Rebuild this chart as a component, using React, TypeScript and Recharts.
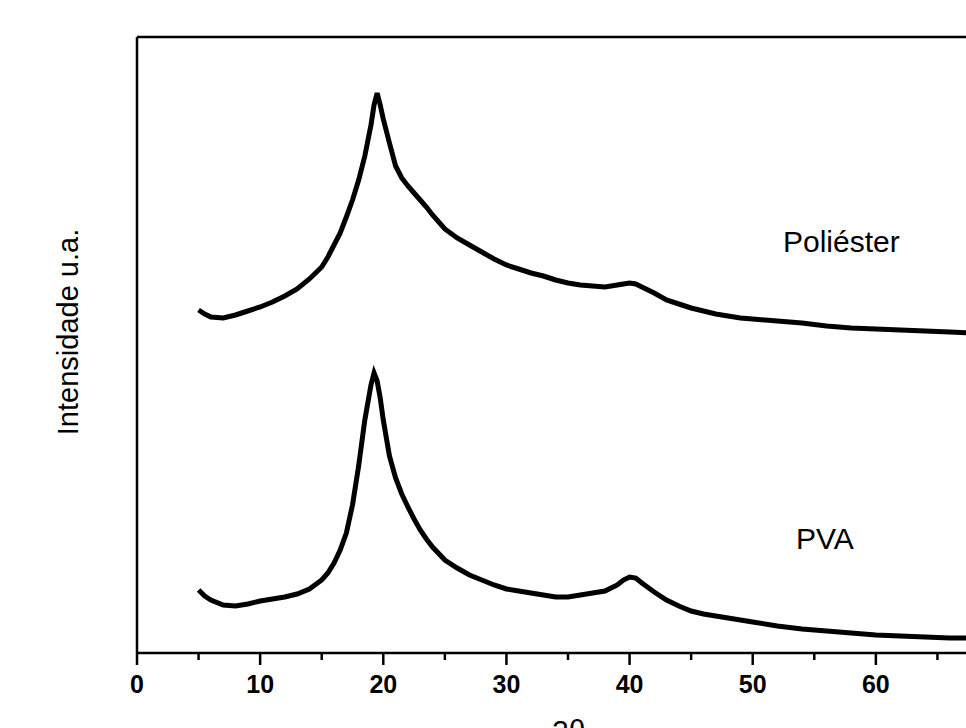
import React from 'react';
import { LineChart, Line, XAxis, YAxis, ReferenceLine } from 'recharts';

// 2θ positions (degrees) where the traces were read
const angles = [
  5, 5.5, 6, 7, 8, 9, 10, 11, 12, 13, 14, 15, 15.5, 16, 16.5, 17, 17.5, 18, 18.5, 19,
  19.25, 19.5, 19.75, 20, 20.5, 21, 21.5, 22, 22.5, 23, 23.5, 24, 25, 26, 27, 28, 29, 30,
  31, 32, 33, 34, 35, 36, 37, 38, 39, 39.5, 40, 40.5, 41, 42, 43, 44, 45, 46, 47, 48, 49,
  50, 52, 54, 56, 58, 60, 62, 64, 66, 68, 70,
];

// intensity (a.u.), upper trace
const poliester = [
  343, 339, 336, 335, 338, 342, 346, 351, 357, 364, 374, 386, 396, 408, 420, 436, 453, 473, 497, 528,
  548, 560, 548, 534, 510, 487, 475, 467, 460, 453, 446, 438, 424, 415, 408, 401, 394, 388,
  384, 380, 377, 373, 370, 368, 367, 366, 368, 369, 370, 369, 366, 360, 353, 349, 345, 342, 339, 337, 335,
  334, 332, 330, 327, 325, 324, 323, 322, 321, 320, 319,
];

// intensity (a.u.), lower trace
const pva = [
  63, 57, 53, 48, 47, 49, 52, 54, 56, 59, 64, 73, 80, 90, 103, 120, 148, 187, 233, 268,
  280, 272, 255, 233, 197, 175, 159, 146, 134, 123, 114, 106, 93, 85, 78, 73, 68, 64,
  62, 60, 58, 56, 56, 58, 60, 62, 68, 73, 76, 75, 70, 61, 53, 47, 42, 39, 37, 35, 33,
  31, 27, 24, 22, 20, 18, 17, 16, 15, 15, 14,
];

const xTicks = [0, 5, 10, 15, 20, 25, 30, 35, 40, 45, 50, 55, 60, 65, 70];

const data = angles.map((t, i) => ({ t, poliester: poliester[i], pva: pva[i] }));

const FONT = '"Liberation Sans", Arial, sans-serif';

const XTick = (props: any) => {
  const { x, y, payload } = props;
  const major = payload.value % 10 === 0;
  return (
    <g>
      <line x1={x} x2={x} y1={y} y2={y + (major ? 12 : 7)} stroke="#000" strokeWidth={2.5} />
      {major && (
        <text x={x} y={y + 40} textAnchor="middle" fontFamily={FONT} fontSize={25} fontWeight="bold" fill="#000">
          {payload.value}
        </text>
      )}
    </g>
  );
};

export default function App() {
  return (
    <div style={{ position: 'absolute', left: 0, top: 0, width: 966, height: 728, overflow: 'hidden', background: '#fff' }}>
      <LineChart width={1040} height={728} data={data} margin={{ top: 37, right: 41, left: 0, bottom: 0 }}>
        <XAxis
          dataKey="t"
          type="number"
          domain={[0, 70]}
          ticks={xTicks}
          interval={0}
          height={75}
          tickSize={0}
          tickMargin={0}
          tickLine={false}
          tick={<XTick />}
          axisLine={{ stroke: '#000', strokeWidth: 2.5 }}
        />
        <YAxis
          type="number"
          domain={[0, 616]}
          width={137}
          tick={false}
          tickLine={false}
          axisLine={{ stroke: '#000', strokeWidth: 2.5 }}
        />
        {/* top and right frame lines */}
        <ReferenceLine y={616} stroke="#000" strokeWidth={2.5} />
        <ReferenceLine x={70} stroke="#000" strokeWidth={2.5} />
        <Line dataKey="poliester" type="linear" stroke="#000" strokeWidth={5} strokeLinejoin="miter" dot={false} isAnimationActive={false} />
        <Line dataKey="pva" type="linear" stroke="#000" strokeWidth={5} strokeLinejoin="miter" dot={false} isAnimationActive={false} />
      </LineChart>
      <svg width={966} height={728} style={{ position: 'absolute', left: 0, top: 0, pointerEvents: 'none' }}>
        <text x={783} y={252} fontFamily={FONT} fontSize={30} fill="#000">Poliéster</text>
        <text x={796} y={549} fontFamily={FONT} fontSize={30} fill="#000">PVA</text>
        <text
          x={78}
          y={332}
          transform="rotate(-90 78 332)"
          textAnchor="middle"
          fontFamily={FONT}
          fontSize={29}
          fill="#000"
        >
          Intensidade u.a.
        </text>
        <text x={552} y={741} fontFamily={FONT} fontSize={30} fill="#000">2θ</text>
      </svg>
    </div>
  );
}
